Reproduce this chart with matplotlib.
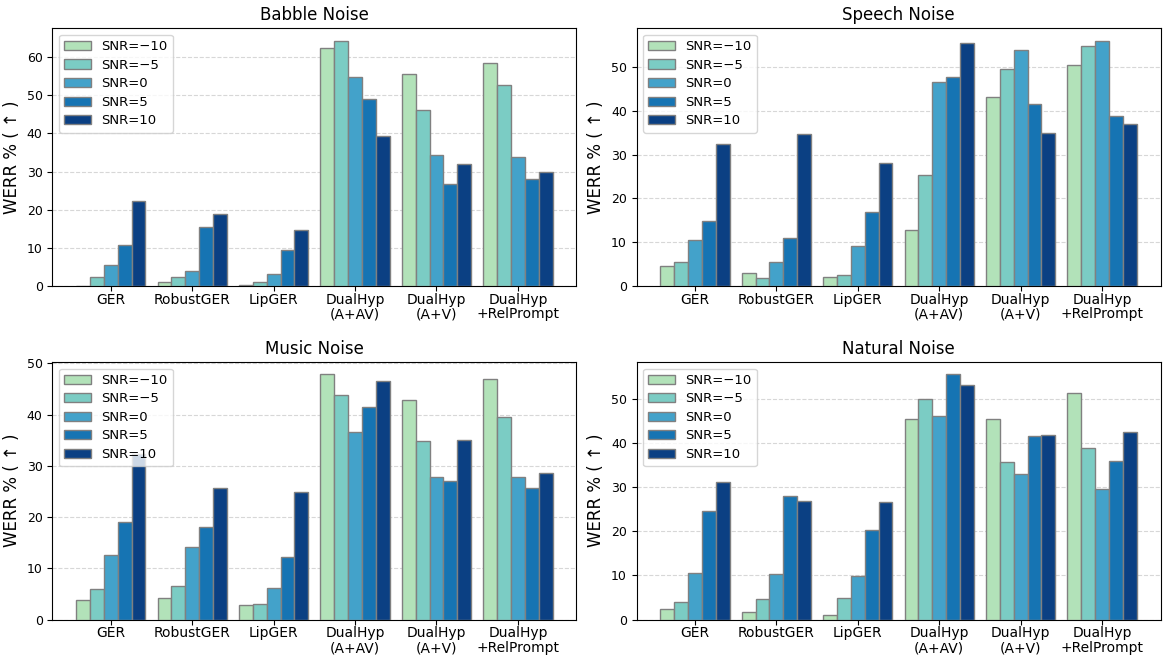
import matplotlib.pyplot as plt
import numpy as np

methods = ['GER', 'RobustGER', 'LipGER', 'DualHyp\n(A+AV)', 'DualHyp\n(A+V)', 'DualHyp\n+RelPrompt']
snr_labels = ['SNR=\u221210', 'SNR=\u22125', 'SNR=0', 'SNR=5', 'SNR=10']
colors = ['#b2e2b9', '#7bccc4', '#43a2ca', '#1674b3', '#0b4083']

# rows: methods, columns: SNR -10, -5, 0, 5, 10
babble = [[0.0, 2.3, 5.6, 10.7, 22.4],
          [0.9, 2.3, 3.9, 15.5, 18.9],
          [0.35, 1.1, 3.0, 9.5, 14.7],
          [62.5, 64.4, 54.9, 49.0, 39.4],
          [55.5, 46.2, 34.4, 26.7, 32.0],
          [58.5, 52.6, 33.9, 28.1, 29.8]]
speech = [[4.6, 5.5, 10.5, 14.8, 32.4],
          [3.05, 1.7, 5.5, 10.9, 34.8],
          [2.1, 2.5, 9.2, 16.8, 28.2],
          [12.7, 25.3, 46.6, 47.7, 55.6],
          [43.2, 49.7, 54.0, 41.7, 35.0],
          [50.5, 54.8, 56.1, 38.9, 37.1]]
music = [[3.9, 5.9, 12.6, 19.1, 32.3],
         [4.2, 6.5, 14.1, 18.0, 25.7],
         [2.9, 3.1, 6.25, 12.3, 24.9],
         [47.9, 43.9, 36.7, 41.5, 46.5],
         [42.9, 34.9, 27.9, 27.0, 35.0],
         [47.0, 39.5, 27.9, 25.7, 28.6]]
natural = [[2.3, 3.9, 10.5, 24.5, 31.1],
           [1.6, 4.6, 10.4, 28.1, 26.9],
           [1.06, 4.8, 9.8, 20.4, 26.7],
           [45.4, 49.9, 46.1, 55.6, 53.1],
           [45.4, 35.7, 32.9, 41.5, 41.9],
           [51.4, 38.9, 29.6, 35.9, 42.4]]

panels = [('Babble Noise', babble), ('Speech Noise', speech),
          ('Music Noise', music), ('Natural Noise', natural)]

fig, axes = plt.subplots(2, 2, figsize=(11.64, 6.57), dpi=100)
plt.subplots_adjust(left=0.045, right=0.997, top=0.957, bottom=0.057,
                     wspace=0.115, hspace=0.295)

x = np.arange(len(methods))
w = 0.17
for ax, (title, data) in zip(axes.flat, panels):
    data = np.array(data)
    for i in range(len(snr_labels)):
        ax.bar(x + (i - 2) * w, data[:, i], width=w, color=colors[i],
               edgecolor='grey', linewidth=1, label=snr_labels[i], zorder=3)
    ax.set_title(title, fontsize=12)
    ax.set_ylabel('WERR % ( \u2191 )', fontsize=12)
    ax.set_xticks(x)
    ax.set_xticklabels(methods, fontsize=10, linespacing=1.05)
    ax.tick_params(axis='x', pad=1.5)
    ax.tick_params(axis='y', labelsize=9)
    ax.grid(axis='y', linestyle='--', alpha=0.5, zorder=0)
    ax.legend(loc='upper left', fontsize=9.5, labelspacing=0.42)

plt.savefig('out.png')
